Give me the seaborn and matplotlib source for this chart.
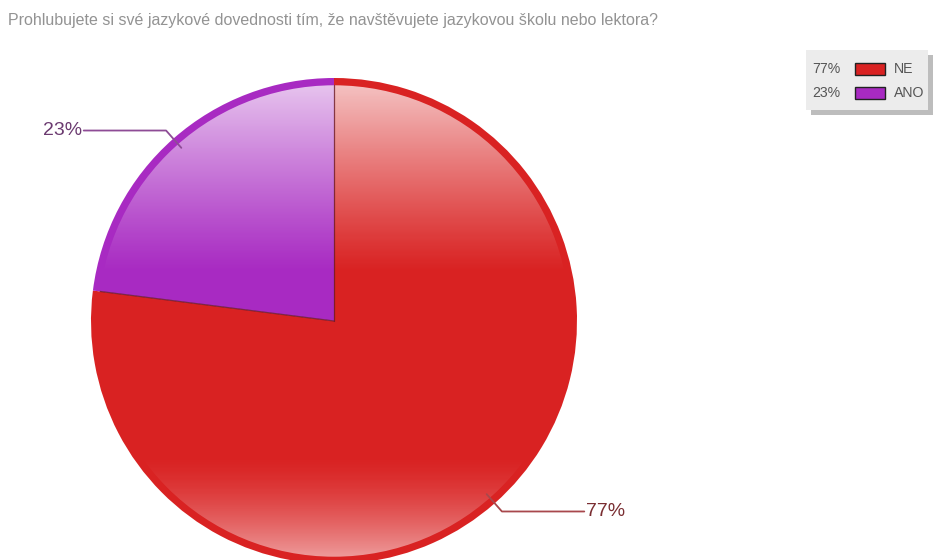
import numpy as np
import matplotlib
matplotlib.use("Agg")
import matplotlib.pyplot as plt
import seaborn as sns
from matplotlib.patches import Rectangle, Circle

sns.set_theme(style="white")
plt.rcParams['font.family'] = ['Liberation Sans', 'DejaVu Sans']

# Data
labels = ["NE", "ANO"]
shares = [77, 23]
colors = ["#d92222", "#a82ac2"]
label_colors = ["#7a2e32", "#6b3a70"]
line_colors = ["#a8484c", "#8e4c96"]
title = "Prohlubujete si své jazykové dovednosti tím, že navštěvujete jazykovou školu nebo lektora?"

W, H = 934, 560
fig = plt.figure(figsize=(W / 100, H / 100), dpi=100)

# pie axes: centre (334, 321) px, radius 243 px
cx, cy, R = 334, 321, 243
ax = fig.add_axes([(cx - R) / W, (H - cy - R) / H, 2 * R / W, 2 * R / H])

wedges, _ = ax.pie(shares, colors=colors, startangle=90, counterclock=False,
                   radius=1, wedgeprops=dict(linewidth=0))

# glossy overlay (lighter top and bottom), leaving a solid rim
yy = np.linspace(1, -1, 400)
alpha = np.clip((yy - 0.2) / 0.8, 0, 1) ** 1.1 * 0.75 + np.clip((-yy - 0.55) / 0.45, 0, 1) ** 1.5 * 0.6
grad = np.ones((400, 2, 4))
grad[:, :, 3] = alpha[:, None]
img = ax.imshow(grad, extent=[-1, 1, -1, 1], aspect="auto", zorder=3, interpolation="bilinear")
img.set_clip_path(Circle((0, 0), 0.97, transform=ax.transData))

# separators between wedges
for w in wedges:
    t = np.radians(w.theta1)
    ax.plot([0, np.cos(t) * 0.97], [0, np.sin(t) * 0.97], color="#6a1a2a", lw=0.9, alpha=0.8, zorder=5)

# leader lines and labels
for w, share, lc, tc in zip(wedges, shares, line_colors, label_colors):
    mid = np.radians((w.theta1 + w.theta2) / 2)
    x0, y0 = 0.95 * np.cos(mid), 0.95 * np.sin(mid)
    x1, y1 = 1.045 * np.cos(mid), 1.045 * np.sin(mid)
    side = np.sign(np.cos(mid))
    x2 = side * 1.03
    ax.plot([x0, x1, x2], [y0, y1, y1], color=lc, lw=1.3, zorder=6, clip_on=False)
    ax.text(x2 + side * 0.008, y1, f"{share}%", ha="left" if side > 0 else "right", va="center",
            fontsize=14, color=tc, zorder=6, clip_on=False)

ax.set_xlim(-1, 1)
ax.set_ylim(-1, 1)
ax.set_aspect("auto")
ax.axis("off")

fig.text(8 / W, 1 - 20 / H, title, fontsize=11.5, color="#939393", ha="left", va="center")

# legend box
lx0, ly0, lx1, ly1 = 806, 50, 928, 110
fig.patches.append(Rectangle((lx0 + 5, H - ly1 - 5), lx1 - lx0, ly1 - ly0,
                             transform=None, facecolor="#bdbdbd", edgecolor="none", zorder=1))
fig.patches.append(Rectangle((lx0, H - ly1), lx1 - lx0, ly1 - ly0,
                             transform=None, facecolor="#ececec", edgecolor="none", zorder=2))
for i, (lab, share, col) in enumerate(zip(labels, shares, colors)):
    ypx = 69 + i * 24
    fig.text(812 / W, 1 - ypx / H, f"{share}%", fontsize=10.2, color="#555555", va="center", zorder=3)
    fig.patches.append(Rectangle((855, H - ypx - 6), 30, 12, transform=None,
                                 facecolor=col, edgecolor="#222222", lw=1, zorder=3))
    fig.text(894 / W, 1 - ypx / H, lab, fontsize=10.2, color="#555555", va="center", zorder=3)

fig.savefig("out.png", dpi=100)
